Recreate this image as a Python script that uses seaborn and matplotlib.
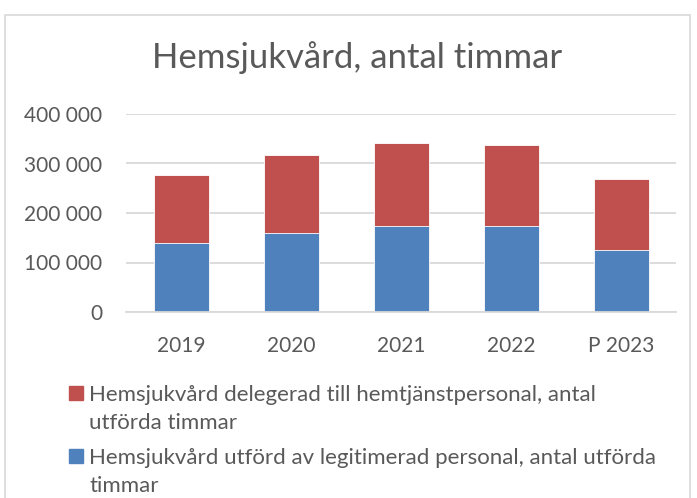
import pandas as pd
import seaborn as sns
import matplotlib.pyplot as plt
from matplotlib.patches import Rectangle
from matplotlib.ticker import FuncFormatter

# data
years = ["2019", "2020", "2021", "2022", "P 2023"]
legitimerad = [140000, 159600, 173100, 173100, 124600]
delegerad = [136800, 158200, 168300, 164300, 144700]
series_labels = [
    ["Hemsjukvård delegerad till hemtjänstpersonal, antal", "utförda timmar"],
    ["Hemsjukvård utförd av legitimerad personal, antal utförda", "timmar"],
]

df = pd.DataFrame({"year": years, "legitimerad": legitimerad, "delegerad": delegerad})
df["total"] = df["legitimerad"] + df["delegerad"]

blue = "#4F81BD"
red = "#C0504D"
grey = "#595959"

sns.set_theme(style="white")
plt.rcParams["font.family"] = ["Lato", "DejaVu Sans"]

W, H = 697, 498
fig = plt.figure(figsize=(W / 100, H / 100), dpi=100)
ax = fig.add_axes([126 / W, (H - 312) / H, 550 / W, 198 / H])

# stacked bars: total in red, blue part drawn over it
sns.barplot(data=df, x="year", y="total", color=red, width=0.5, saturation=1,
            edgecolor="white", linewidth=0.6, ax=ax)
sns.barplot(data=df, x="year", y="legitimerad", color=blue, width=0.5, saturation=1,
            edgecolor="white", linewidth=0.6, ax=ax)

ax.set_ylim(0, 400000)
ax.set_yticks([0, 100000, 200000, 300000, 400000])
ax.yaxis.set_major_formatter(FuncFormatter(lambda v, p: f"{int(v):,}".replace(",", " ")))
ax.grid(axis="y", color="#D9D9D9", linewidth=1.3)
ax.set_axisbelow(True)
for s in ["top", "right", "left"]:
    ax.spines[s].set_visible(False)
ax.spines["bottom"].set_color("#D9D9D9")
ax.spines["bottom"].set_linewidth(1.3)
ax.tick_params(axis="both", length=0, labelsize=15, colors=grey)
ax.tick_params(axis="x", pad=17)
ax.tick_params(axis="y", pad=17)
ax.set_xlabel("")
ax.set_ylabel("")

fig.text(357 / W, 1 - 58 / H, "Hemsjukvård, antal timmar", ha="center", va="center",
         fontsize=25, color=grey)

# legend drawn by hand so the square sits on the first text line (Excel style)
first_baselines = [401, 464]
for (lines, col, base) in zip(series_labels, [red, blue], first_baselines):
    fig.patches.append(Rectangle((69 / W, 1 - (base - 1) / H), 14 / W, 14 / H,
                                 transform=fig.transFigure, color=col))
    for i, line in enumerate(lines):
        fig.text(89 / W, 1 - (base + i * 27.5) / H, line, ha="left", va="baseline",
                 fontsize=16, color=grey)

# outer chart frame
fig.patches.append(Rectangle((5 / W, -0.05), 685 / W, 1.05 - 15 / H,
                             transform=fig.transFigure, fill=False,
                             edgecolor="#D9D9D9", linewidth=1.2))

fig.savefig("out.png", dpi=100)
